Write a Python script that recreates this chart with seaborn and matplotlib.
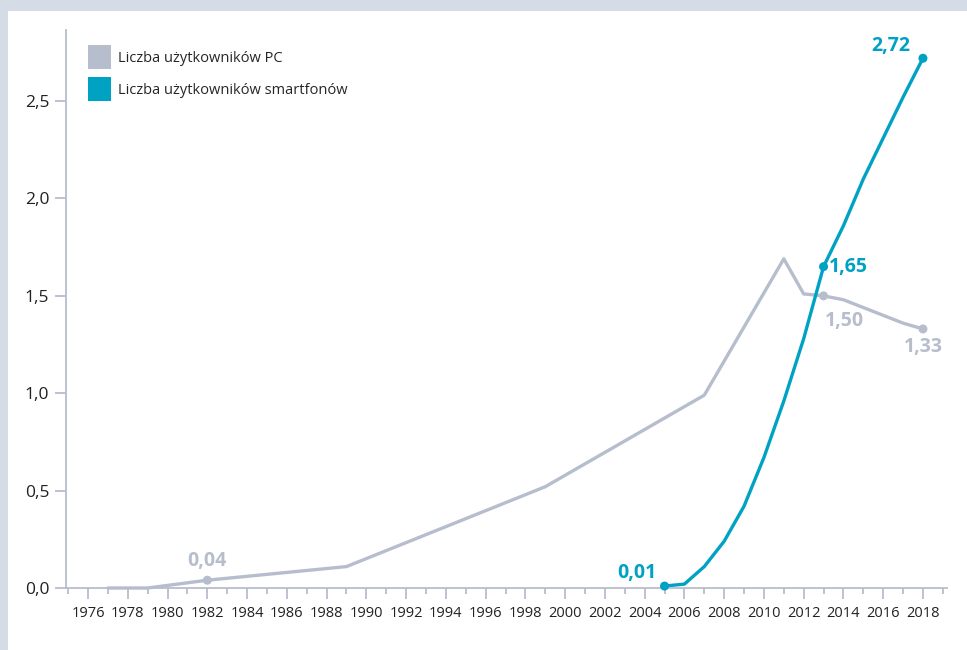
import matplotlib as mpl
import numpy as np
import pandas as pd
import matplotlib.pyplot as plt
import seaborn as sns
from matplotlib.patches import Patch, Rectangle
from matplotlib.ticker import FuncFormatter, MultipleLocator

# ----- data (billions of users) -----
pc_years = [1977, 1979, 1982, 1989, 1999, 2007, 2011, 2012, 2013, 2014, 2015, 2016, 2017, 2018]
pc_users = [0.0, 0.0, 0.04, 0.11, 0.52, 0.99, 1.69, 1.51, 1.50, 1.48, 1.44, 1.40, 1.36, 1.33]
phone_years = [2005, 2006, 2007, 2008, 2009, 2010, 2011, 2012, 2013, 2014, 2015, 2016, 2017, 2018]
phone_users = [0.01, 0.02, 0.11, 0.24, 0.42, 0.67, 0.96, 1.28, 1.65, 1.86, 2.10, 2.31, 2.52, 2.72]

pc_label = 'Liczba użytkowników PC'
phone_label = 'Liczba użytkowników smartfonów'

# highlighted points: (year, value, text)
pc_marks = [(1982, 0.04, '0,04'), (2013, 1.50, '1,50'), (2018, 1.33, '1,33')]
phone_marks = [(2005, 0.01, '0,01'), (2013, 1.65, '1,65'), (2018, 2.72, '2,72')]

PC_COLOR = '#b6bdcd'
PHONE_COLOR = '#00a2c4'
AXIS_COLOR = '#b6bdcd'
BG_COLOR = '#d5dce6'

sns.set_style('white')
plt.rcParams['font.family'] = ['Open Sans', 'DejaVu Sans']

pc_df = pd.DataFrame({'year': pc_years, 'users': pc_users})
phone_df = pd.DataFrame({'year': phone_years, 'users': phone_users})

fig = plt.figure(figsize=(9.67, 6.5), dpi=100)
fig.patch.set_facecolor(BG_COLOR)
fig.patches.append(Rectangle((8 / 967, 0), 1, (650 - 11) / 650, transform=fig.transFigure,
                             facecolor='white', edgecolor='none', zorder=-1))
ax = fig.add_axes([66 / 967, 62 / 650, (947 - 66) / 967, (588 - 30) / 650])
ax.set_zorder(1)
ax.set_facecolor('none')

sns.lineplot(data=pc_df, x='year', y='users', ax=ax, color=PC_COLOR, linewidth=2.4, clip_on=False)
sns.lineplot(data=phone_df, x='year', y='users', ax=ax, color=PHONE_COLOR, linewidth=2.4, clip_on=False)

pc_pts = pd.DataFrame(pc_marks, columns=['year', 'users', 'text'])
phone_pts = pd.DataFrame(phone_marks, columns=['year', 'users', 'text'])
sns.scatterplot(data=pc_pts, x='year', y='users', ax=ax, color=PC_COLOR, s=42, edgecolor='none',
                clip_on=False, zorder=3)
sns.scatterplot(data=phone_pts, x='year', y='users', ax=ax, color=PHONE_COLOR, s=42, edgecolor='none',
                clip_on=False, zorder=3)

# ----- value labels -----
lab_kw = dict(fontsize=14, fontweight='bold', textcoords='offset points')
ax.annotate('0,04', (1982, 0.04), xytext=(0, 14), ha='center', va='center', color=PC_COLOR, **lab_kw)
ax.annotate('1,50', (2013, 1.50), xytext=(15, -18), ha='center', va='center', color=PC_COLOR, **lab_kw)
ax.annotate('1,33', (2018, 1.33), xytext=(0, -13), ha='center', va='center', color=PC_COLOR, **lab_kw)
ax.annotate('0,01', (2005, 0.01), xytext=(-6, 9.5), ha='right', va='center', color=PHONE_COLOR, **lab_kw)
ax.annotate('1,65', (2013, 1.65), xytext=(4, 0), ha='left', va='center', color=PHONE_COLOR, **lab_kw)
ax.annotate('2,72', (2018, 2.72), xytext=(-9, 9), ha='right', va='center', color=PHONE_COLOR, **lab_kw)

# ----- axes -----
ax.set_xlim(1974.89, 2019.21)
ax.set_ylim(0, 2.865)
ax.xaxis.set_minor_locator(MultipleLocator(1))
ax.set_xticks(np.arange(1976, 2019, 2))
ax.set_yticks(np.arange(0, 2.6, 0.5))
ax.yaxis.set_major_formatter(FuncFormatter(lambda v, p: f'{v:.1f}'.replace('.', ',')))
ax.set_xlabel('')
ax.set_ylabel('')
sns.despine(ax=ax)
for side in ('left', 'bottom'):
    ax.spines[side].set_color(AXIS_COLOR)
    ax.spines[side].set_linewidth(1.3)
ax.tick_params(axis='x', which='major', bottom=True, length=8, width=1.3, color=AXIS_COLOR,
               labelsize=10.5, labelcolor='#222222', pad=5)
ax.tick_params(axis='x', which='minor', bottom=True, length=4, width=1.3, color=AXIS_COLOR)
ax.tick_params(axis='y', which='major', left=True, length=8, width=1.3, color=AXIS_COLOR,
               labelsize=12.5, labelcolor='#222222', pad=4)

handles = [Patch(facecolor=PC_COLOR, edgecolor='none', label=pc_label),
           Patch(facecolor=PHONE_COLOR, edgecolor='none', label=phone_label)]
ax.legend(handles=handles, loc='upper left', bbox_to_anchor=(0.025, 0.973), frameon=False,
          fontsize=10.5, handlelength=1.58, handleheight=2.2, handletextpad=0.45, labelspacing=0.5,
          borderaxespad=0, borderpad=0)

fig.savefig('out.png', dpi=100, facecolor=fig.get_facecolor())
